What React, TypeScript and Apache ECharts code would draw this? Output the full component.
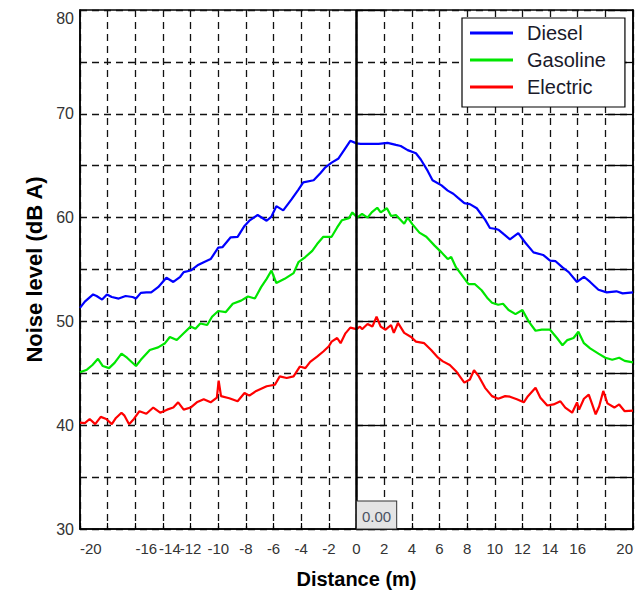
import React, { useEffect, useRef } from "react";
import * as echarts from "echarts";

const seriesNames = ["Diesel", "Gasoline", "Electric"];
const seriesColors = ["#0000ff", "#00e600", "#ff0000"];

const diesel: [number, number][] = [
  [-20, 51.3], [-19.65, 51.9], [-19.05, 52.6], [-18.8, 52.45], [-18.4, 52.1], [-18.05, 52.6],
  [-17.7, 52.35], [-17.2, 52.2], [-16.7, 52.45], [-16.2, 52.35], [-15.95, 52.2], [-15.6, 52.75],
  [-15.2, 52.8], [-14.85, 52.8], [-14.35, 53.3], [-13.75, 54.2], [-13.25, 53.8], [-12.75, 54.3],
  [-12.5, 54.75], [-12.0, 54.9], [-11.5, 55.4], [-11.05, 55.7], [-10.55, 56.0], [-10.0, 57.1],
  [-9.7, 57.15], [-9.1, 58.1], [-8.6, 58.15], [-8.1, 59.2], [-7.75, 59.7], [-7.15, 60.25],
  [-6.5, 59.7], [-6.15, 60.1], [-5.8, 61.1], [-5.3, 60.7], [-4.7, 61.75], [-4.2, 62.7],
  [-3.85, 63.4], [-3.1, 63.6], [-2.6, 64.3], [-2.25, 64.85], [-1.8, 65.3], [-1.3, 65.7],
  [-0.8, 66.7], [-0.45, 67.4], [0, 67.15], [0.3, 67.1], [1.0, 67.1], [1.6, 67.1],
  [2.25, 67.2], [2.85, 67.0], [3.2, 66.9], [3.7, 66.5], [4.3, 66.2], [4.65, 65.6],
  [5.15, 64.5], [5.5, 63.6], [6.15, 63.1], [6.6, 62.6], [7.0, 62.3], [7.35, 61.9],
  [7.8, 61.4], [8.2, 61.3], [8.7, 60.9], [9.3, 59.8], [9.65, 59.0], [10.1, 58.9],
  [10.3, 58.8], [10.65, 58.4], [11.1, 57.9], [11.7, 58.5], [12.2, 57.6], [12.8, 56.65],
  [13.5, 56.4], [14.0, 55.85], [14.4, 55.8], [14.9, 55.2], [15.35, 54.75], [15.95, 53.8],
  [16.45, 54.3], [16.9, 53.8], [17.5, 53.05], [18.1, 52.8], [18.8, 52.9], [19.25, 52.7],
  [20, 52.8],
];

const gasoline: [number, number][] = [
  [-20, 45.1], [-19.5, 45.35], [-19.1, 45.8], [-18.7, 46.4], [-18.35, 45.7], [-17.9, 45.5],
  [-17.5, 46.0], [-17.0, 46.9], [-16.6, 46.5], [-15.95, 45.7], [-15.6, 46.3], [-14.95, 47.25],
  [-14.35, 47.5], [-13.85, 47.9], [-13.5, 48.5], [-13.0, 48.2], [-12.5, 48.85], [-12.0, 49.5],
  [-11.65, 49.3], [-11.3, 49.8], [-10.8, 49.65], [-10.45, 50.45], [-10.0, 51.0], [-9.45, 50.9],
  [-8.95, 51.7], [-8.35, 52.0], [-7.85, 52.4], [-7.35, 52.2], [-6.9, 53.3], [-6.5, 54.1],
  [-6.15, 54.9], [-5.8, 53.7], [-5.2, 54.1], [-4.55, 54.65], [-4.2, 55.7], [-3.7, 56.2],
  [-3.2, 56.8], [-2.85, 57.45], [-2.4, 58.15], [-1.8, 58.15], [-1.4, 59.05], [-1.05, 59.75],
  [-0.55, 59.95], [-0.3, 60.5], [0.05, 60.0], [0.4, 60.35], [0.8, 60.0], [1.1, 60.5],
  [1.5, 60.95], [1.75, 60.5], [2.2, 60.9], [2.5, 60.15], [2.85, 60.25], [3.45, 59.4],
  [3.7, 60.0], [4.05, 59.35], [4.55, 58.55], [5.05, 58.15], [5.65, 57.3], [6.15, 56.65],
  [6.6, 56.0], [6.85, 56.2], [7.2, 55.2], [7.6, 54.5], [8.1, 53.6], [8.55, 53.6],
  [9.05, 53.0], [9.5, 52.2], [9.8, 51.8], [10.25, 51.6], [10.6, 51.7], [11.0, 51.1],
  [11.5, 50.7], [12.0, 51.1], [12.45, 50.0], [12.95, 49.1], [13.4, 49.2], [14.0, 49.2],
  [14.5, 48.4], [14.9, 47.7], [15.25, 48.2], [15.7, 48.4], [16.05, 49.0], [16.45, 47.9],
  [16.9, 47.4], [17.5, 46.9], [18.0, 46.5], [18.5, 46.3], [19.0, 46.5], [19.4, 46.2],
  [20, 46.05],
];

const electric: [number, number][] = [
  [-20, 40.25], [-19.65, 40.2], [-19.3, 40.6], [-18.9, 40.1], [-18.5, 40.8], [-18.1, 40.6],
  [-17.7, 40.1], [-17.4, 40.7], [-17.0, 41.2], [-16.8, 40.95], [-16.45, 40.1], [-16.1, 40.6],
  [-15.7, 41.35], [-15.2, 41.1], [-14.7, 41.7], [-14.2, 41.2], [-13.7, 41.5], [-13.25, 41.7],
  [-12.9, 42.2], [-12.5, 41.5], [-12.0, 41.7], [-11.55, 42.2], [-11.05, 42.5], [-10.55, 42.2],
  [-10.1, 42.65], [-9.97, 44.3], [-9.8, 42.8], [-9.2, 42.6], [-8.6, 42.3], [-8.1, 43.1],
  [-7.75, 42.85], [-7.25, 43.3], [-6.5, 43.75], [-5.9, 43.9], [-5.55, 44.7], [-5.05, 44.55],
  [-4.55, 44.7], [-4.1, 45.65], [-3.7, 45.5], [-3.35, 46.1], [-2.85, 46.6], [-2.4, 47.1],
  [-2.0, 47.6], [-1.8, 48.05], [-1.4, 48.4], [-1.15, 47.9], [-0.8, 48.85], [-0.45, 49.4],
  [0, 49.25], [0.25, 49.5], [0.4, 49.25], [0.8, 49.75], [1.15, 49.5], [1.45, 50.45],
  [1.75, 49.5], [2.1, 49.2], [2.5, 49.65], [2.7, 48.9], [3.0, 49.85], [3.45, 48.9],
  [3.95, 48.5], [4.3, 48.05], [4.9, 47.9], [5.4, 47.25], [5.9, 46.5], [6.25, 46.15],
  [6.75, 45.8], [7.2, 45.2], [7.8, 44.1], [8.2, 44.4], [8.5, 45.3], [8.85, 44.7],
  [9.3, 43.6], [9.8, 42.8], [10.25, 42.55], [10.75, 42.8], [11.1, 42.75], [11.6, 42.5],
  [12.1, 42.2], [12.4, 42.8], [12.95, 43.6], [13.3, 42.65], [13.8, 41.9], [14.25, 42.0],
  [14.75, 42.3], [15.1, 41.7], [15.6, 41.2], [15.95, 42.2], [16.1, 41.5], [16.45, 42.55],
  [16.8, 42.95], [17.05, 42.0], [17.3, 41.05], [17.55, 41.8], [17.85, 43.3], [18.15, 42.1],
  [18.65, 41.7], [19.0, 42.0], [19.4, 41.35], [20, 41.4],
];

const seriesData = [diesel, gasoline, electric];

const xMin = -20;
const xMax = 20;
const xStep = 2;
const hiddenXTicks = [-18, 18];
const yMin = 30;
const yMax = 80;
const yStep = 5;
const yLabelStep = 10;
const centerLineX = 0;
const centerLabel = "0.00";
const xTitle = "Distance (m)";
const yTitle = "Noise level (dB A)";

// styling only: a few tick labels in the original sit a little right of their grid line
const shiftedLabelStyle: Record<string, string> = { "-16": "r22", "-14": "r14" };

export default function App() {
  const ref = useRef<HTMLDivElement>(null);

  useEffect(() => {
    if (!ref.current) return;
    const chart = echarts.init(ref.current, null, { renderer: "svg" });
    const font = "'Liberation Sans', Arial, Helvetica, sans-serif";
    const dash = { color: "#111", width: 1.3, type: [7, 5] };

    const series: any[] = seriesNames.map((name, i) => ({
      name,
      type: "line",
      data: seriesData[i],
      symbol: "none",
      showSymbol: false,
      z: 3,
      color: seriesColors[i],
      lineStyle: { color: seriesColors[i], width: 2.2 },
    }));

    series[0].markLine = {
      silent: true,
      symbol: ["none", "none"],
      label: { show: false },
      lineStyle: { color: "#000", width: 2.5, type: "solid" },
      data: [{ xAxis: centerLineX }],
    };
    series[0].markPoint = {
      silent: true,
      symbol: "rect",
      symbolSize: 1,
      itemStyle: { color: "rgba(0,0,0,0)" },
      z: 6,
      data: [{ coord: [centerLineX, yMin] }],
      label: {
        show: true,
        formatter: centerLabel,
        position: [1, 0],
        align: "left",
        verticalAlign: "bottom",
        fontSize: 15,
        fontFamily: font,
        color: "#4a5262",
        backgroundColor: "#e4e4e4",
        borderColor: "#333",
        borderWidth: 1,
        padding: [7, 5, 5, 5],
      },
    };

    chart.setOption({
      animation: false,
      textStyle: { fontFamily: font },
      grid: {
        left: 80,
        right: 2,
        top: 10,
        bottom: 67,
        show: true,
        borderColor: "#000",
        borderWidth: 1.5,
        backgroundColor: "transparent",
        outerBoundsMode: "none",
      },
      legend: {
        orient: "vertical",
        left: 462,
        top: 18,
        data: seriesNames,
        icon: "rect",
        itemWidth: 43,
        itemHeight: 3,
        itemGap: 7,
        padding: [5, 19, 10, 8],
        backgroundColor: "#fff",
        borderColor: "#000",
        borderWidth: 1.2,
        borderRadius: 0,
        textStyle: {
          fontSize: 20,
          lineHeight: 20,
          color: "#1a1a2a",
          fontFamily: font,
          padding: [0, 0, 0, 9],
        },
      },
      xAxis: {
        type: "value",
        min: xMin,
        max: xMax,
        interval: xStep,
        name: xTitle,
        nameLocation: "middle",
        nameGap: 40,
        nameTextStyle: { fontSize: 20, fontWeight: "bold", color: "#000", fontFamily: font },
        axisLine: { show: true, onZero: false, lineStyle: { color: "#000", width: 1.5 } },
        axisTick: { show: true, inside: true, length: 6, lineStyle: { color: "#000", width: 1.2 } },
        axisLabel: {
          fontSize: 15,
          color: "#333",
          margin: 12,
          alignMinLabel: "left",
          alignMaxLabel: "right",
          rich: {
            r22: { fontSize: 15, color: "#333", padding: [0, 0, 0, 22] },
            r14: { fontSize: 15, color: "#333", padding: [0, 0, 0, 14] },
          },
          formatter: (v: number) => {
            if (hiddenXTicks.includes(v)) return "";
            const key = shiftedLabelStyle[String(v)];
            return key ? `{${key}|${v}}` : String(v);
          },
        },
        splitLine: { show: true, lineStyle: dash },
      },
      yAxis: [
        {
          type: "value",
          min: yMin,
          max: yMax,
          interval: yStep,
          position: "left",
          name: yTitle,
          nameLocation: "middle",
          nameGap: 30,
          nameRotate: 90,
          nameTextStyle: { fontSize: 22, fontWeight: "bold", color: "#000", fontFamily: font },
          axisLine: { show: true, onZero: false, lineStyle: { color: "#000", width: 1.5 } },
          axisTick: { show: false },
          axisLabel: {
            fontSize: 16,
            color: "#333",
            margin: 6,
            verticalAlignMaxLabel: "top",
            formatter: (v: number) => (v % yLabelStep === 0 ? String(v) : ""),
          },
          splitLine: { show: true, lineStyle: dash },
        },
        {
          type: "value",
          min: yMin,
          max: yMax,
          interval: yLabelStep,
          position: "left",
          axisLine: { show: false },
          axisLabel: { show: false },
          splitLine: { show: false },
          axisTick: { show: true, inside: true, length: 28, lineStyle: { color: "#000", width: 1.3 } },
        },
        {
          type: "value",
          min: yMin,
          max: yMax,
          interval: yStep,
          position: "right",
          axisLine: { show: true, onZero: false, lineStyle: { color: "#000", width: 1.5 } },
          axisLabel: { show: false },
          splitLine: { show: false },
          axisTick: { show: true, inside: true, length: 28, lineStyle: { color: "#000", width: 1.3 } },
        },
      ],
      series,
    });

    return () => chart.dispose();
  }, []);

  return (
    <div
      ref={ref}
      style={{ position: "absolute", left: 0, top: 0, width: 635, height: 596, background: "#fff" }}
    />
  );
}
